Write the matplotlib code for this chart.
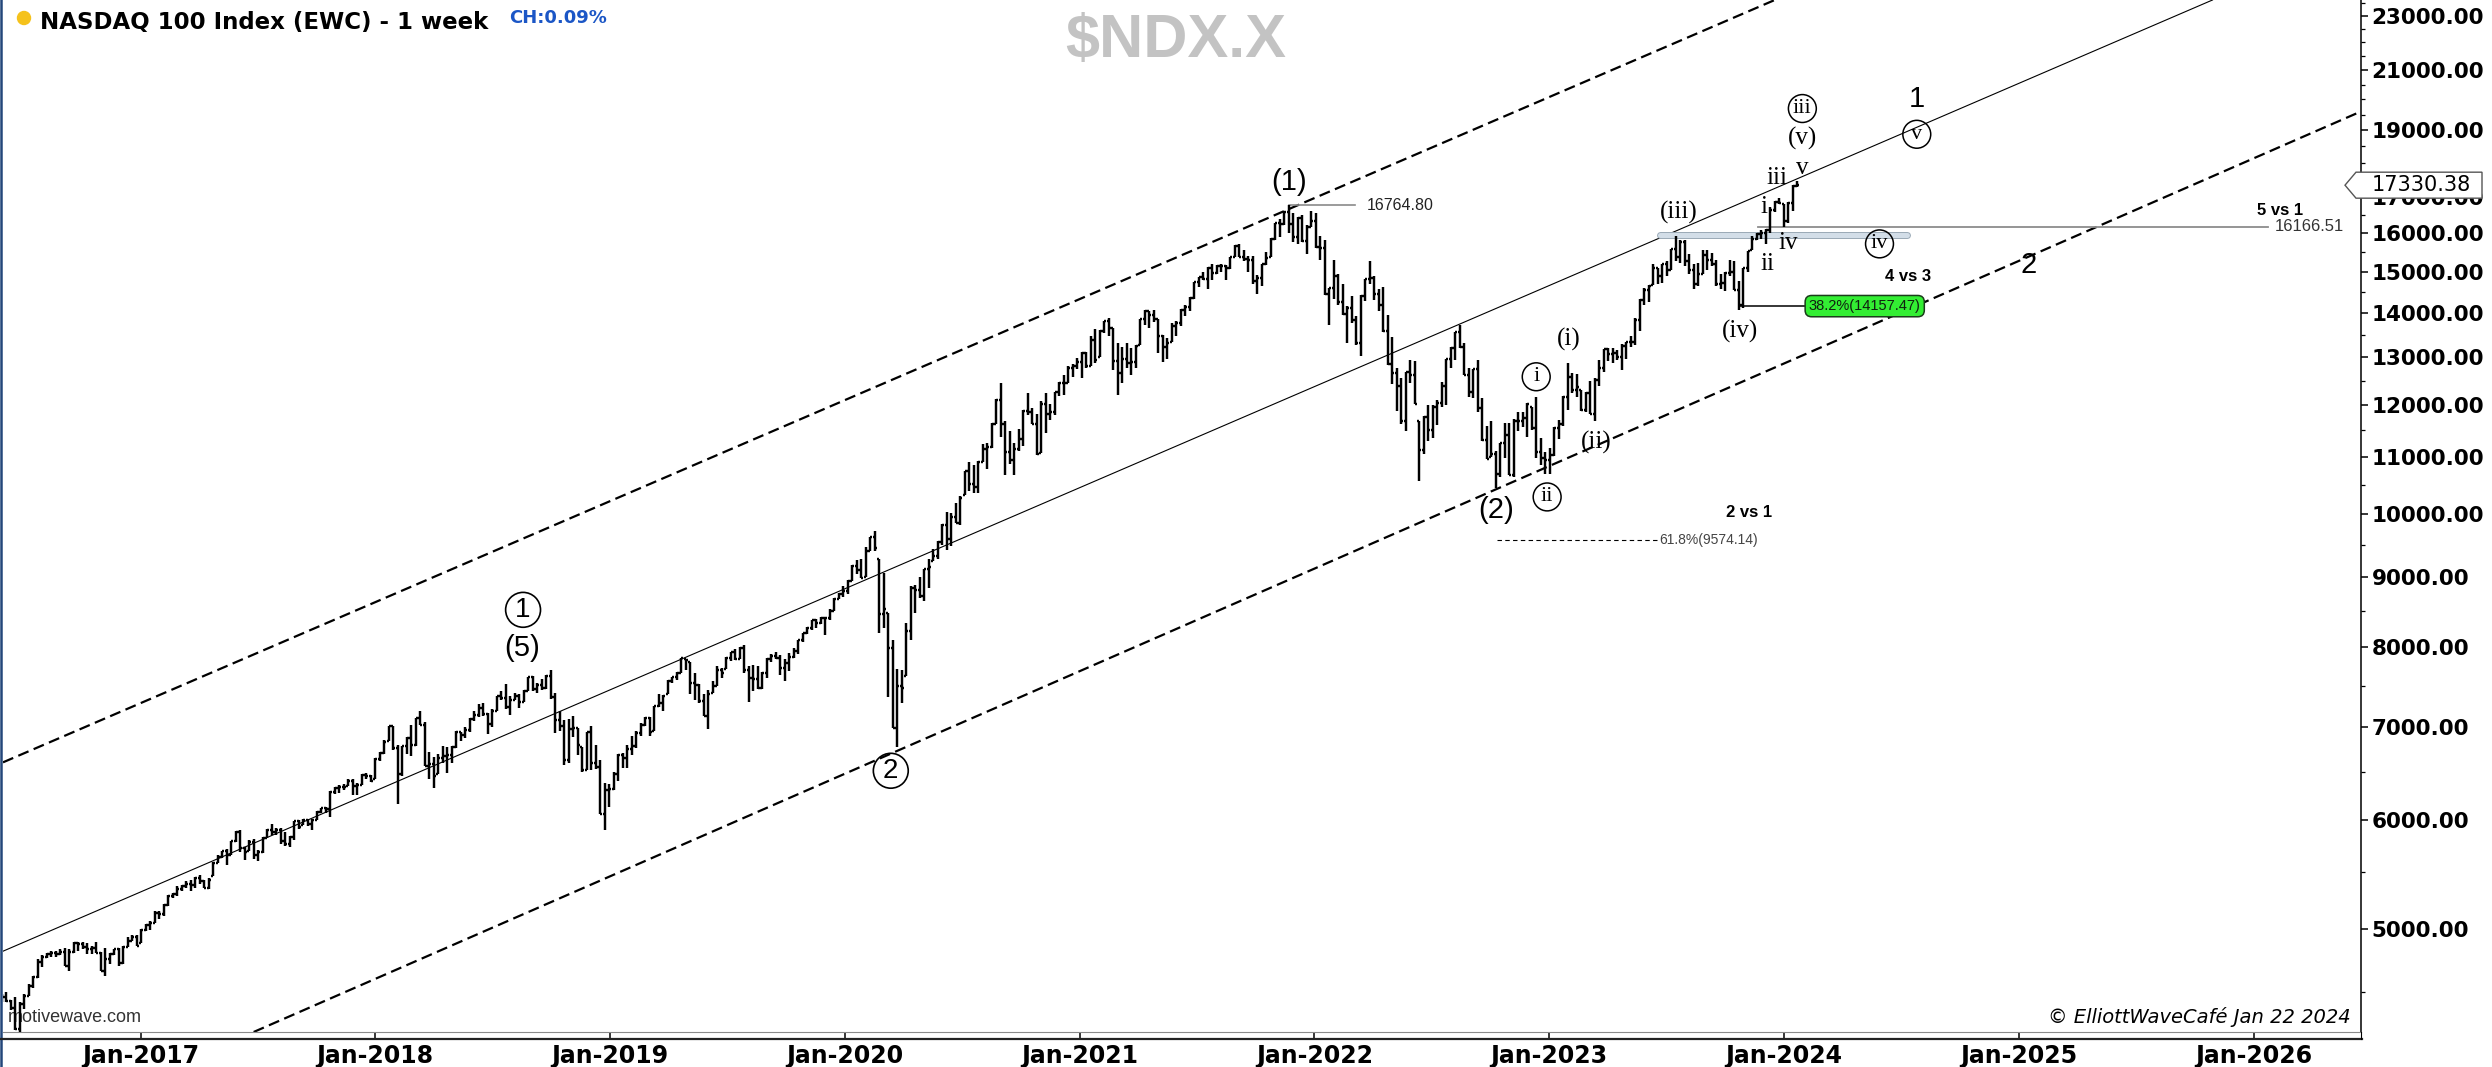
import matplotlib
matplotlib.use("Agg")
import matplotlib.pyplot as plt
import matplotlib.dates as mdates
import matplotlib.patheffects as pe
from matplotlib.collections import LineCollection
from matplotlib.lines import Line2D
from matplotlib.patches import Circle, Polygon
from matplotlib.ticker import FixedLocator, FuncFormatter, NullFormatter
from matplotlib.transforms import IdentityTransform
import numpy as np
import pandas as pd

# weekly bars, one per Monday, 2016-05-30 .. 2024-01-22
first_week = "2016-05-30"
first_open = 4470

highs = [
    # 2016
    4480, 4500, 4440, 4460, 4420, 4480, 4560, 4620, 4750, 4780, 4800, 4820, 4820, 4830, 4840, 4830,
    4890, 4890, 4890, 4880, 4860, 4890, 4810, 4840, 4800, 4830, 4840, 4860, 4930, 4950, 4950,
    # 2017
    5000, 5040, 5060, 5150, 5150, 5210, 5290, 5310, 5370, 5380, 5410, 5420, 5450, 5470, 5420, 5440,
    5590, 5650, 5690, 5710, 5790, 5890, 5900, 5730, 5800, 5810, 5700, 5830, 5910, 5960, 5920, 5920,
    5880, 5840, 5990, 6000, 6010, 6010, 6010, 6090, 6120, 6130, 6290, 6340, 6360, 6370, 6420, 6420,
    6380, 6480, 6490, 6460,
    # 2018
    6650, 6720, 6850, 7020, 7020, 6800, 6790, 6890, 7030, 7110, 7190, 7060, 6720, 6660, 6700, 6790,
    6770, 6790, 6960, 6950, 7000, 7110, 7200, 7280, 7290, 7170, 7220, 7380, 7440, 7520, 7380, 7420,
    7400, 7450, 7620, 7630, 7540, 7590, 7640, 7700, 7410, 7200, 7090, 7100, 7130, 6990, 6770, 6950,
    7020, 6800, 6630, 6380, 6370,
    # 2019
    6500, 6700, 6710, 6800, 6900, 6960, 7050, 7120, 7120, 7260, 7400, 7390, 7580, 7620, 7680, 7860,
    7850, 7810, 7670, 7530, 7400, 7450, 7560, 7750, 7730, 7870, 7940, 7980, 8000, 8030, 7750, 7770,
    7760, 7680, 7860, 7920, 7940, 7900, 7850, 7930, 7990, 8100, 8200, 8280, 8380, 8390, 8420, 8420,
    8530, 8690, 8770, 8870,
    # 2020
    8950, 9180, 9260, 9280, 9470, 9630, 9720, 9280, 9060, 8470, 8100, 7720, 7700, 8330, 8870, 8880,
    9000, 9120, 9280, 9430, 9560, 9840, 10030, 10010, 10180, 10310, 10750, 10910, 10850, 10920, 11240, 11260,
    11650, 12130, 12440, 11680, 11490, 11260, 11530, 11900, 12250, 11930, 11830, 12090, 12240, 12020, 12270, 12480,
    12610, 12800, 12850, 12980,
    # 2021
    13110, 13120, 13470, 13620, 13610, 13820, 13880, 13640, 13300, 13230, 13300, 13200, 13260, 13860, 14060, 14050,
    14060, 13860, 13490, 13420, 13760, 13800, 14090, 14180, 14370, 14750, 14860, 15000, 15120, 15180, 15160, 15180,
    15170, 15380, 15690, 15700, 15560, 15400, 15400, 14920, 15180, 15490, 15860, 16280, 16380, 16590, 16764.80, 16530,
    16420, 16500, 16210, 16600,
    # 2022
    16550, 15920, 15800, 14600, 15290, 14950, 14680, 14170, 14390, 13920, 14430, 14820, 15270, 14890, 14560, 14610,
    13960, 13450, 12760, 12560, 12690, 12940, 12920, 11690, 11780, 12000, 12000, 12110, 12480, 12950, 13220, 13560,
    13720, 13310, 12760, 12750, 12940, 12140, 11590, 11680, 11110, 11270, 11650, 11640, 11730, 11860, 11860, 12050,
    11950, 12170, 11350, 11100,
    # 2023
    11160, 11560, 11700, 12180, 12880, 12670, 12630, 12310, 12270, 12500, 12560, 12930, 13180, 13210, 13190, 13160,
    13290, 13330, 13470, 13880, 14320, 14590, 14660, 15180, 15080, 15190, 15260, 15580, 15930, 15800, 15820, 15450,
    15180, 15210, 15560, 15540, 15480, 15280, 14940, 15000, 15290, 15260, 14770, 15100, 15530, 15930, 16010, 16070,
    16100, 16720, 16890, 16970,
    # 2024
    16790, 16840, 17330, 17450,
]

lows = [
    # 2016
    4420, 4420, 4360, 4220, 4170, 4370, 4470, 4530, 4600, 4690, 4760, 4770, 4770, 4780, 4700, 4660,
    4800, 4820, 4830, 4790, 4790, 4800, 4660, 4620, 4710, 4780, 4700, 4710, 4850, 4900, 4860,
    # 2017
    4880, 4980, 4990, 5050, 5080, 5110, 5190, 5260, 5280, 5320, 5350, 5320, 5350, 5390, 5350, 5340,
    5460, 5580, 5630, 5560, 5650, 5780, 5680, 5610, 5690, 5620, 5600, 5670, 5820, 5850, 5850, 5760,
    5740, 5730, 5800, 5910, 5950, 5940, 5900, 6000, 6070, 6070, 6030, 6260, 6270, 6300, 6350, 6250,
    6250, 6360, 6420, 6390,
    # 2018
    6420, 6620, 6700, 6840, 6740, 6160, 6450, 6690, 6670, 6790, 7030, 6560, 6420, 6330, 6480, 6600,
    6490, 6590, 6760, 6840, 6880, 6950, 7080, 7120, 7130, 6920, 7000, 7200, 7330, 7220, 7150, 7330,
    7230, 7300, 7440, 7440, 7410, 7450, 7460, 7340, 6930, 6960, 6570, 6590, 6890, 6680, 6500, 6520,
    6520, 6530, 6060, 5900, 6130,
    # 2019
    6300, 6400, 6540, 6540, 6680, 6760, 6900, 7010, 6900, 6960, 7240, 7190, 7400, 7540, 7580, 7660,
    7700, 7400, 7330, 7290, 7130, 6980, 7420, 7500, 7600, 7720, 7820, 7840, 7850, 7660, 7300, 7440,
    7460, 7460, 7600, 7810, 7850, 7640, 7560, 7690, 7860, 7920, 8070, 8180, 8240, 8260, 8320, 8170,
    8380, 8500, 8680, 8700,
    # 2020
    8750, 8940, 9050, 8980, 9000, 9400, 9400, 8190, 8260, 7360, 6990, 6770, 7290, 7630, 8100, 8480,
    8690, 8640, 8840, 9250, 9280, 9500, 9410, 9480, 9850, 9820, 10330, 10400, 10350, 10350, 10900, 10780,
    11160, 11620, 11370, 10670, 10880, 10680, 11110, 11200, 11800, 11630, 11030, 11080, 11460, 11710, 11800, 12190,
    12210, 12450, 12580, 12750,
    # 2021
    12550, 12770, 12800, 12880, 13000, 13540, 13460, 12720, 12210, 12440, 12760, 12610, 12770, 13260, 13720, 13650,
    13780, 13100, 12900, 12950, 13340, 13470, 13690, 13930, 14040, 14330, 14610, 14800, 14580, 14800, 14940, 14990,
    14800, 15060, 15370, 15370, 15270, 14990, 14700, 14440, 14640, 15160, 15380, 15800, 15890, 16210, 16000, 15750,
    15720, 15770, 15450, 16150,
    # 2022
    15590, 15280, 14430, 13720, 14330, 14180, 13950, 13320, 13770, 13270, 13020, 14280, 14700, 14310, 14050, 13560,
    12820, 12430, 11890, 11620, 11480, 12440, 12010, 10560, 11060, 11300, 11360, 11600, 11960, 12000, 12760, 12940,
    13210, 12610, 12160, 12150, 11860, 11300, 10970, 11000, 10440, 10640, 10990, 10670, 10640, 11480, 11570, 11380,
    11500, 10990, 10850, 10700,
    # 2023
    10700, 11010, 11330, 11580, 11900, 12240, 12170, 11890, 11860, 11830, 11690, 12390, 12690, 12910, 12870, 12940,
    12720, 12950, 13230, 13260, 13580, 14180, 14260, 14660, 14690, 14720, 14890, 15040, 15260, 15220, 15140, 14950,
    14560, 14650, 14950, 15050, 15150, 14650, 14560, 14520, 14880, 14540, 14060, 14120, 15000, 15540, 15800, 15850,
    15700, 15990, 16560, 16780,
    # 2024
    16166.51, 16280, 16600, 17280,
]

closes = [
    # 2016
    4460, 4430, 4380, 4230, 4410, 4470, 4540, 4610, 4730, 4770, 4790, 4800, 4790, 4810, 4700, 4810,
    4880, 4870, 4850, 4830, 4840, 4800, 4660, 4750, 4790, 4830, 4720, 4850, 4900, 4930, 4860,
    # 2017
    4990, 5030, 5050, 5130, 5120, 5200, 5280, 5300, 5340, 5370, 5390, 5380, 5440, 5410, 5350, 5420,
    5580, 5640, 5690, 5650, 5790, 5880, 5720, 5680, 5780, 5650, 5680, 5820, 5900, 5880, 5900, 5790,
    5760, 5830, 5990, 5930, 6000, 5960, 6000, 6080, 6120, 6110, 6280, 6330, 6340, 6340, 6400, 6350,
    6360, 6460, 6450, 6400,
    # 2018
    6640, 6710, 6830, 7020, 6760, 6470, 6780, 6880, 6800, 7110, 7030, 6560, 6580, 6450, 6650, 6670,
    6680, 6770, 6940, 6910, 6970, 7100, 7150, 7230, 7160, 7040, 7200, 7380, 7350, 7240, 7330, 7380,
    7300, 7440, 7620, 7460, 7510, 7470, 7630, 7360, 7090, 7010, 6630, 6980, 6990, 6800, 6520, 6950,
    6590, 6550, 6060, 6300, 6310,
    # 2019
    6470, 6680, 6650, 6750, 6780, 6930, 7030, 7110, 6950, 7250, 7290, 7380, 7570, 7620, 7670, 7860,
    7840, 7540, 7510, 7310, 7130, 7400, 7500, 7700, 7670, 7860, 7940, 7850, 7990, 7700, 7600, 7590,
    7470, 7660, 7850, 7890, 7860, 7730, 7800, 7880, 7950, 8100, 8200, 8270, 8380, 8330, 8400, 8410,
    8500, 8680, 8750, 8790,
    # 2020
    8940, 9170, 9110, 8990, 9400, 9620, 9450, 8460, 8530, 7990, 6990, 7500, 7480, 8230, 8830, 8800,
    8720, 9120, 9150, 9320, 9550, 9820, 9590, 9950, 9850, 10280, 10740, 10510, 10460, 10900, 11140, 11180,
    11630, 12110, 11620, 11090, 10940, 11150, 11330, 11890, 11860, 11630, 11050, 12010, 11830, 11860, 12260, 12460,
    12440, 12760, 12800, 12890,
    # 2021
    13100, 12800, 13370, 12930, 13590, 13800, 13640, 12910, 12670, 12950, 12870, 12890, 13250, 13850, 14040, 13950,
    13860, 13460, 13230, 13300, 13690, 13770, 14070, 14130, 14360, 14740, 14860, 14810, 15100, 14960, 15140, 15150,
    15100, 15370, 15650, 15380, 15330, 15300, 14770, 14830, 15180, 15340, 15850, 16270, 16250, 16570, 16250, 15880,
    16410, 15790, 16150, 16320,
    # 2022
    15630, 15610, 14440, 14590, 14900, 14250, 13980, 14120, 13840, 13320, 14400, 14820, 14840, 14440, 14180, 13570,
    12850, 12650, 12390, 11690, 12680, 12620, 12010, 11130, 11760, 11500, 11960, 12040, 12380, 12950, 13210, 13560,
    13230, 12620, 12270, 12740, 11930, 11310, 10970, 11050, 10690, 11260, 11410, 10680, 11680, 11680, 11750, 12010,
    11550, 11100, 10990, 10940,
    # 2023
    11040, 11540, 11620, 12170, 12570, 12300, 12360, 11910, 12250, 11830, 12520, 12770, 13180, 13060, 13080, 13000,
    13250, 13340, 13340, 13830, 14300, 14550, 14640, 15080, 14890, 15180, 15040, 15570, 15380, 15750, 15270, 15030,
    14690, 14940, 15430, 15280, 15200, 14700, 14720, 14970, 15000, 14540, 14180, 15100, 15530, 15840, 15980, 15990,
    16080, 16620, 16860, 16830,
    # 2024
    16310, 16830, 17310, 17330.38,
]

price_ticks = [5000, 6000, 7000, 8000, 9000, 10000, 11000, 12000, 13000, 14000,
               15000, 16000, 17000, 19000, 21000, 23000]

# channel lines, each through two (date, price) anchors
upper_channel = [("2016-05-28", 6590), ("2021-11-22", 16650)]
middle_line = [("2016-05-30", 4810), ("2023-07-17", 16050)]
lower_channel = [("2020-03-23", 6730), ("2022-10-10", 10420)]

# Elliott wave labels (text, date, price)
sans_labels = [("(5)", "2018-08-17", 7990), ("(1)", "2021-11-22", 17420),
               ("(2)", "2022-10-11", 10070), ("1", "2024-07-26", 20000),
               ("2", "2025-01-16", 15160)]
sans_circled = [("1", "2018-08-19", 8520), ("2", "2020-03-13", 6510)]
serif_labels = [("(i)", "2023-02-01", 13380), ("(ii)", "2023-03-15", 11280),
                ("(iii)", "2023-07-22", 16570), ("(iv)", "2023-10-25", 13560),
                ("(v)", "2024-01-30", 18750), ("i", "2023-12-01", 16710),
                ("ii", "2023-12-06", 15190), ("iii", "2023-12-22", 17540),
                ("iv", "2024-01-08", 15730), ("v", "2024-01-30", 17850)]
serif_circled = [("i", "2022-12-12", 12580), ("ii", "2022-12-29", 10290),
                 ("iii", "2024-01-30", 19700), ("iv", "2024-05-29", 15710),
                 ("v", "2024-07-26", 18870)]
ratio_labels = [("2 vs 1", "2023-11-08", 10034), ("4 vs 3", "2024-07-12", 14864),
                ("5 vs 1", "2026-02-11", 16600)]

wave1_top = 16764.80
wave4_level = 16166.51
wave3_top = 15932
fib_382 = 14157.47
fib_618 = 9574.14


def d(s):
    return mdates.date2num(pd.Timestamp(s))


SANS = "Liberation Sans"
SERIF = "Liberation Serif"

assert len(highs) == len(lows) == len(closes)

W, H = 2492, 1067
fig = plt.figure(figsize=(W / 100, H / 100), dpi=100)
ax = fig.add_axes([3 / W, 35 / H, 2358 / W, 1032 / H])
ax.set_yscale("log")
ax.set_xlim(d("2016-06-01"), d("2026-06-17"))
ax.set_ylim(4206, 23620)

# OHLC bars
x = mdates.date2num(pd.date_range(first_week, periods=len(closes), freq="W-MON"))
opens = np.clip(np.r_[first_open, closes[:-1]], lows, highs)
tick = 2.8
segs = []
for xi, o, h, l, c in zip(x, opens, highs, lows, closes):
    segs.append([(xi, l), (xi, h)])
    segs.append([(xi - tick, o), (xi, o)])
    segs.append([(xi, c), (xi + tick, c)])
ax.add_collection(LineCollection(segs, colors="black", linewidths=1.75,
                                 capstyle="butt", zorder=3))

# channel
for pts, style in [(upper_channel, "--"), (lower_channel, "--"), (middle_line, "-")]:
    (d1, p1), (d2, p2) = pts
    if style == "--":
        ax.axline((d(d1), p1), (d(d2), p2), color="black", lw=1.6,
                  dashes=(5, 2.5), zorder=2)
    else:
        ax.axline((d(d1), p1), (d(d2), p2), color="black", lw=0.8, zorder=2)

# level lines
top_date = x[highs.index(wave1_top)]
ax.plot([top_date, d("2022-03-05")], [wave1_top] * 2, color="#8a8a8a", lw=1.2, zorder=2)
ax.text(d("2022-03-24"), wave1_top, f"{wave1_top:.2f}", family=SANS, fontsize=11.5,
        va="center", ha="left", color="#222")

ax.plot([d("2023-11-22"), d("2026-01-23")], [wave4_level] * 2, color="#8c8c8c", lw=1.3, zorder=2)
ax.text(d("2026-02-03"), wave4_level, f"{wave4_level:.2f}", family=SANS, fontsize=12,
        va="center", ha="left", color="#333")

ax.plot([d("2023-06-23"), d("2024-07-10")], [wave3_top] * 2, lw=3.6, color="#d3dee8",
        solid_capstyle="round", zorder=2,
        path_effects=[pe.Stroke(linewidth=5, foreground="#9aa9b6"), pe.Normal()])

ax.plot([d("2022-10-12"), d("2023-06-20")], [fib_618] * 2, color="black", lw=0.8,
        dashes=(4, 3), zorder=2)
ax.text(d("2023-06-22"), fib_618, f"61.8%({fib_618:.2f})", family=SANS, fontsize=10,
        va="center", ha="left", color="#444")

ax.plot([d("2023-10-23"), d("2024-02-04")], [fib_382] * 2, color="black", lw=1.1, zorder=2)
ax.text(d("2024-02-09"), fib_382, f"38.2%({fib_382:.2f})", family=SANS, fontsize=10.5,
        va="center", ha="left", color="#102010", zorder=6,
        bbox=dict(boxstyle="round,pad=0.25,rounding_size=0.45", fc="#33ee33",
                  ec="#1b3d1b", lw=1.1))

# wave labels
for s, dt, p in sans_labels:
    ax.text(d(dt), p, s, family=SANS, fontsize=21, ha="center", va="center", zorder=5)
for s, dt, p in sans_circled:
    ax.text(d(dt), p, s, family=SANS, fontsize=20, ha="center", va="center", zorder=5,
            bbox=dict(boxstyle="circle,pad=0.16", fc="none", ec="black", lw=1.2))
for s, dt, p in serif_labels:
    ax.text(d(dt), p, s, family=SERIF, fontsize=18, ha="center", va="center", zorder=5)
for s, dt, p in serif_circled:
    ax.text(d(dt), p, s, family=SERIF, fontsize=16, ha="center", va="center", zorder=5,
            bbox=dict(boxstyle="circle,pad=0.2", fc="none", ec="black", lw=1.1))
for s, dt, p in ratio_labels:
    ax.text(d(dt), p, s, family=SANS, fontsize=12, weight="bold", ha="center",
            va="center", zorder=5)

ax.text(5 / 2358, 14 / 1032, "motivewave.com", transform=ax.transAxes, family=SANS,
        fontsize=13, color="#333", va="center", ha="left", zorder=1)

# axes styling
for side in ["left", "top"]:
    ax.spines[side].set_visible(False)
ax.spines["bottom"].set_color("#8a8a8a")
ax.spines["bottom"].set_linewidth(0.8)
ax.spines["right"].set_color("black")
ax.spines["right"].set_linewidth(1.1)

ax.yaxis.set_major_locator(FixedLocator(price_ticks))
ax.yaxis.set_major_formatter(FuncFormatter(lambda v, _: f"{v:.2f}"))
minor = [v for v in np.arange(4500, 23600, 500) if v not in price_ticks]
ax.yaxis.set_minor_locator(FixedLocator(minor))
ax.yaxis.set_minor_formatter(NullFormatter())
ax.tick_params(axis="y", which="both", left=False, right=True, labelleft=False,
               labelright=True, direction="out")
ax.tick_params(axis="y", which="major", length=5, width=1.1, pad=2.5, labelsize=15.5)
ax.tick_params(axis="y", which="minor", length=3, width=0.9)

ax.xaxis.set_major_locator(mdates.YearLocator())
ax.xaxis.set_major_formatter(mdates.DateFormatter("%b-%Y"))
ax.tick_params(axis="x", which="major", direction="out", length=5, width=1.1,
               pad=3.6, labelsize=17)
plt.setp(ax.get_xticklabels() + ax.get_yticklabels(), fontweight="bold")

# frame pieces outside the axes
ident = IdentityTransform()
fig.add_artist(Line2D([1.2, 1.2], [0, H], transform=ident, color="#23467a", lw=1.8))
fig.add_artist(Line2D([0, 2362], [28, 28], transform=ident, color="#222", lw=1.6))
fig.add_artist(Line2D([2361, 2361], [28, 35], transform=ident, color="black", lw=0.8))

# last price tag
last = closes[-1]
yc = ax.transData.transform((ax.get_xlim()[1], last))[1]
fig.add_artist(Polygon([(2345, yc), (2356, yc + 13), (2482, yc + 13), (2482, yc - 13),
                        (2356, yc - 13)], closed=True, transform=ident, fc="white",
                       ec="#555", lw=1.0, zorder=5))
fig.text(2372, yc, f"{last:.2f}", transform=ident, fontsize=15, va="center",
         ha="left", zorder=6)

# header
fig.add_artist(Circle((24, H - 18), 6.5, transform=ident, color="#f5c21b"))
fig.text(40 / W, 1 - 23 / H, "NASDAQ 100 Index (EWC) - 1 week", fontsize=16.5,
         weight="bold", va="center", ha="left")
fig.text(509 / W, 1 - 18 / H, "CH:0.09%", fontsize=13, weight="bold", color="#1b56c6",
         va="center", ha="left")
fig.text(1176 / W, 1 - 42 / H, "$NDX.X", family=SANS, weight="bold", color="#c3c3c3",
         fontsize=44, ha="center", va="center")
fig.text(2351 / W, 1 - 1017 / H, "\u00a9 ElliottWaveCaf\u00e9 Jan 22 2024", fontsize=14,
         style="italic", ha="right", va="center")

fig.savefig("out.png", dpi=100)
